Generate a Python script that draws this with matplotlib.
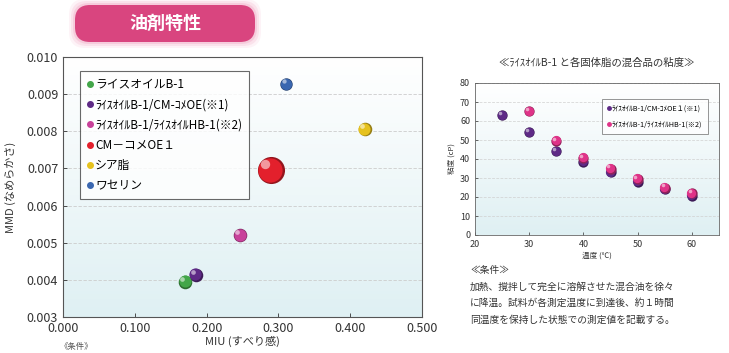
import numpy as np
import matplotlib
matplotlib.use('Agg')
import matplotlib.pyplot as plt
import matplotlib.transforms as mtransforms
from matplotlib.patches import FancyBboxPatch
from matplotlib.lines import Line2D

plt.rcParams['font.family'] = ['Noto Sans CJK JP', 'DejaVu Sans']

# main chart: MIU vs MMD
names = ['ライスオイルB-1', 'ﾗｲｽｵｲﾙB-1/CM-ｺﾒOE(※1)', 'ﾗｲｽｵｲﾙB-1/ﾗｲｽｵｲﾙHB-1(※2)',
         'CM－コメOE１', 'シア脂', 'ワセリン']
miu = [0.170, 0.185, 0.247, 0.289, 0.420, 0.311]
mmd = [0.00395, 0.00414, 0.00520, 0.00695, 0.00805, 0.00927]

# viscosity chart
temp_a = [25, 30, 35, 40, 45, 50, 55, 60]
visc_a = [63, 54, 44, 38.5, 33, 28, 24, 20.5]
temp_b = [30, 35, 40, 45, 50, 55, 60]
visc_b = [65, 49.5, 40.5, 35, 29.5, 25, 22]
series_names = ['ﾗｲｽｵｲﾙB-1/CM-ｺﾒOE１(※1)', 'ﾗｲｽｵｲﾙB-1/ﾗｲｽｵｲﾙHB-1(※2)']

colors = ['#43a649', '#5e2a86', '#c8419a', '#e3202c', '#e6c21e', '#3a67b0']
sizes = [95, 95, 95, 380, 95, 80]


def lighten(c, f):
    rgb = np.array(matplotlib.colors.to_rgb(c))
    return tuple(rgb + (1 - rgb) * f)


def darken(c, f):
    rgb = np.array(matplotlib.colors.to_rgb(c))
    return tuple(rgb * (1 - f))


def sphere(ax, x, y, c, s, z=3):
    # fake 3d ball: dark base, colour body, small highlight up-left
    ax.scatter(x, y, s=s, color=darken(c, 0.35), zorder=z, linewidths=0)
    off = mtransforms.offset_copy(ax.transData, fig=ax.figure, x=-0.4, y=0.4, units='points')
    ax.scatter(x, y, s=s * 0.8, color=c, zorder=z + 0.1, linewidths=0, transform=off)
    d = np.sqrt(s) * 0.22
    off2 = mtransforms.offset_copy(ax.transData, fig=ax.figure, x=-d, y=d, units='points')
    ax.scatter(x, y, s=s * 0.12, color=lighten(c, 0.6), zorder=z + 0.2, linewidths=0,
               transform=off2, alpha=0.9)


def gradient_bg(ax):
    g = np.linspace(0, 1, 100).reshape(-1, 1)
    cmap = matplotlib.colors.LinearSegmentedColormap.from_list('bg', ['#dff0f3', '#ffffff'])
    ax.imshow(g, extent=[0, 1, 0, 1], transform=ax.transAxes, cmap=cmap,
              aspect='auto', origin='lower', zorder=0)


fig = plt.figure(figsize=(7.29, 3.53), dpi=100)

# --- title banner ---
bax = fig.add_axes([60 / 729, 1 - 48 / 353, 210 / 729, 48 / 353])
bax.set_xlim(0, 210)
bax.set_ylim(0, 48)
bax.axis('off')
for i, a in enumerate([0.08, 0.12, 0.18]):
    p = 6 - 2 * i
    bax.add_patch(FancyBboxPatch((15 - p, 6 - p), 180 + 2 * p, 37 + 2 * p,
                                 boxstyle='round,pad=0,rounding_size=16',
                                 fc='#e86a9c', ec='none', alpha=a))
bax.add_patch(FancyBboxPatch((15, 6), 180, 37, boxstyle='round,pad=0,rounding_size=15',
                             fc='#d9457f', ec='none'))
bax.text(105, 25, '油剤特性', color='white', fontsize=13, fontweight='bold',
         ha='center', va='center')

# --- main chart ---
ax = fig.add_axes([63 / 729, 1 - 317 / 353, 359 / 729, 260 / 353])
gradient_bg(ax)
for i in range(len(names)):
    sphere(ax, miu[i], mmd[i], colors[i], sizes[i])
ax.set_xlim(0, 0.5)
ax.set_ylim(0.003, 0.010)
ax.set_xticks(np.arange(0, 0.51, 0.1))
ax.set_yticks(np.arange(0.003, 0.0101, 0.001))
ax.set_xticklabels(['%.3f' % v for v in np.arange(0, 0.51, 0.1)])
ax.set_yticklabels(['%.3f' % v for v in np.arange(0.003, 0.0101, 0.001)])
ax.tick_params(labelsize=9, colors='#333333', direction='in', length=3, width=0.6)
ax.yaxis.grid(True, color='#cccccc', linestyle=(0, (4, 2)), linewidth=0.6)
ax.set_axisbelow(True)
for sp in ax.spines.values():
    sp.set_color('#555555')
    sp.set_linewidth(0.8)
ax.set_xlabel('MIU (すべり感)', fontsize=8, color='#333333', labelpad=1)
ax.set_ylabel('MMD (なめらかさ)', fontsize=8, color='#333333', labelpad=8)

handles = [Line2D([], [], marker='o', linestyle='none', markersize=4, color=c) for c in colors]
leg = ax.legend(handles, names, loc='upper left', bbox_to_anchor=(0.03, 0.97),
                fontsize=8.5, frameon=True, fancybox=False, handlelength=0.5,
                handletextpad=0.2, labelspacing=0.62, borderpad=0.6)
leg.get_frame().set_edgecolor('#444444')
leg.get_frame().set_linewidth(0.8)

fig.text(60 / 729, 1 - 347 / 353, '《条件》', fontsize=6, color='#555555', va='center')

# --- viscosity chart ---
ax2 = fig.add_axes([475 / 729, 1 - 235 / 353, 244 / 729, 152 / 353])
gradient_bg(ax2)
for x, y in zip(temp_a, visc_a):
    sphere(ax2, x, y, '#5e2a86', 55)
for x, y in zip(temp_b, visc_b):
    sphere(ax2, x, y, '#df3388', 55, z=4)
ax2.set_xlim(20, 65)
ax2.set_ylim(0, 80)
ax2.set_xticks([20, 30, 40, 50, 60])
ax2.set_yticks(range(0, 81, 10))
ax2.tick_params(labelsize=6.5, colors='#333333', direction='in', length=2, width=0.5)
ax2.yaxis.grid(True, color='#d0d0d0', linestyle=(0, (4, 2)), linewidth=0.5)
ax2.set_axisbelow(True)
for sp in ax2.spines.values():
    sp.set_color('#666666')
    sp.set_linewidth(0.6)
ax2.set_xlabel('温度 (℃)', fontsize=5.5, color='#333333', labelpad=2)
ax2.set_ylabel('粘度 (cP)', fontsize=5.5, color='#333333', labelpad=3)
ax2.set_title('≪ﾗｲｽｵｲﾙB-1 と各固体脂の混合品の粘度≫', fontsize=7.5, color='#333333', pad=12)

h2 = [Line2D([], [], marker='o', linestyle='none', markersize=2.5, color=c)
      for c in ['#5e2a86', '#df3388']]
leg2 = ax2.legend(h2, series_names, loc='upper right', bbox_to_anchor=(0.97, 0.92),
                  fontsize=5.2, frameon=True, fancybox=False, handlelength=0.4,
                  handletextpad=0.2, labelspacing=1.1, borderpad=0.8)
leg2.get_frame().set_edgecolor('#666666')
leg2.get_frame().set_linewidth(0.6)

cond = ['≪条件≫',
        '加熱、撹拌して完全に溶解させた混合油を徐々',
        'に降温。試料が各測定温度に到達後、約１時間',
        '同温度を保持した状態での測定値を記載する。']
for i, line in enumerate(cond):
    fig.text(470 / 729, 1 - (270 + 16.5 * i) / 353, line, fontsize=7, color='#333333',
             va='center')

fig.savefig('out.png', dpi=100)
